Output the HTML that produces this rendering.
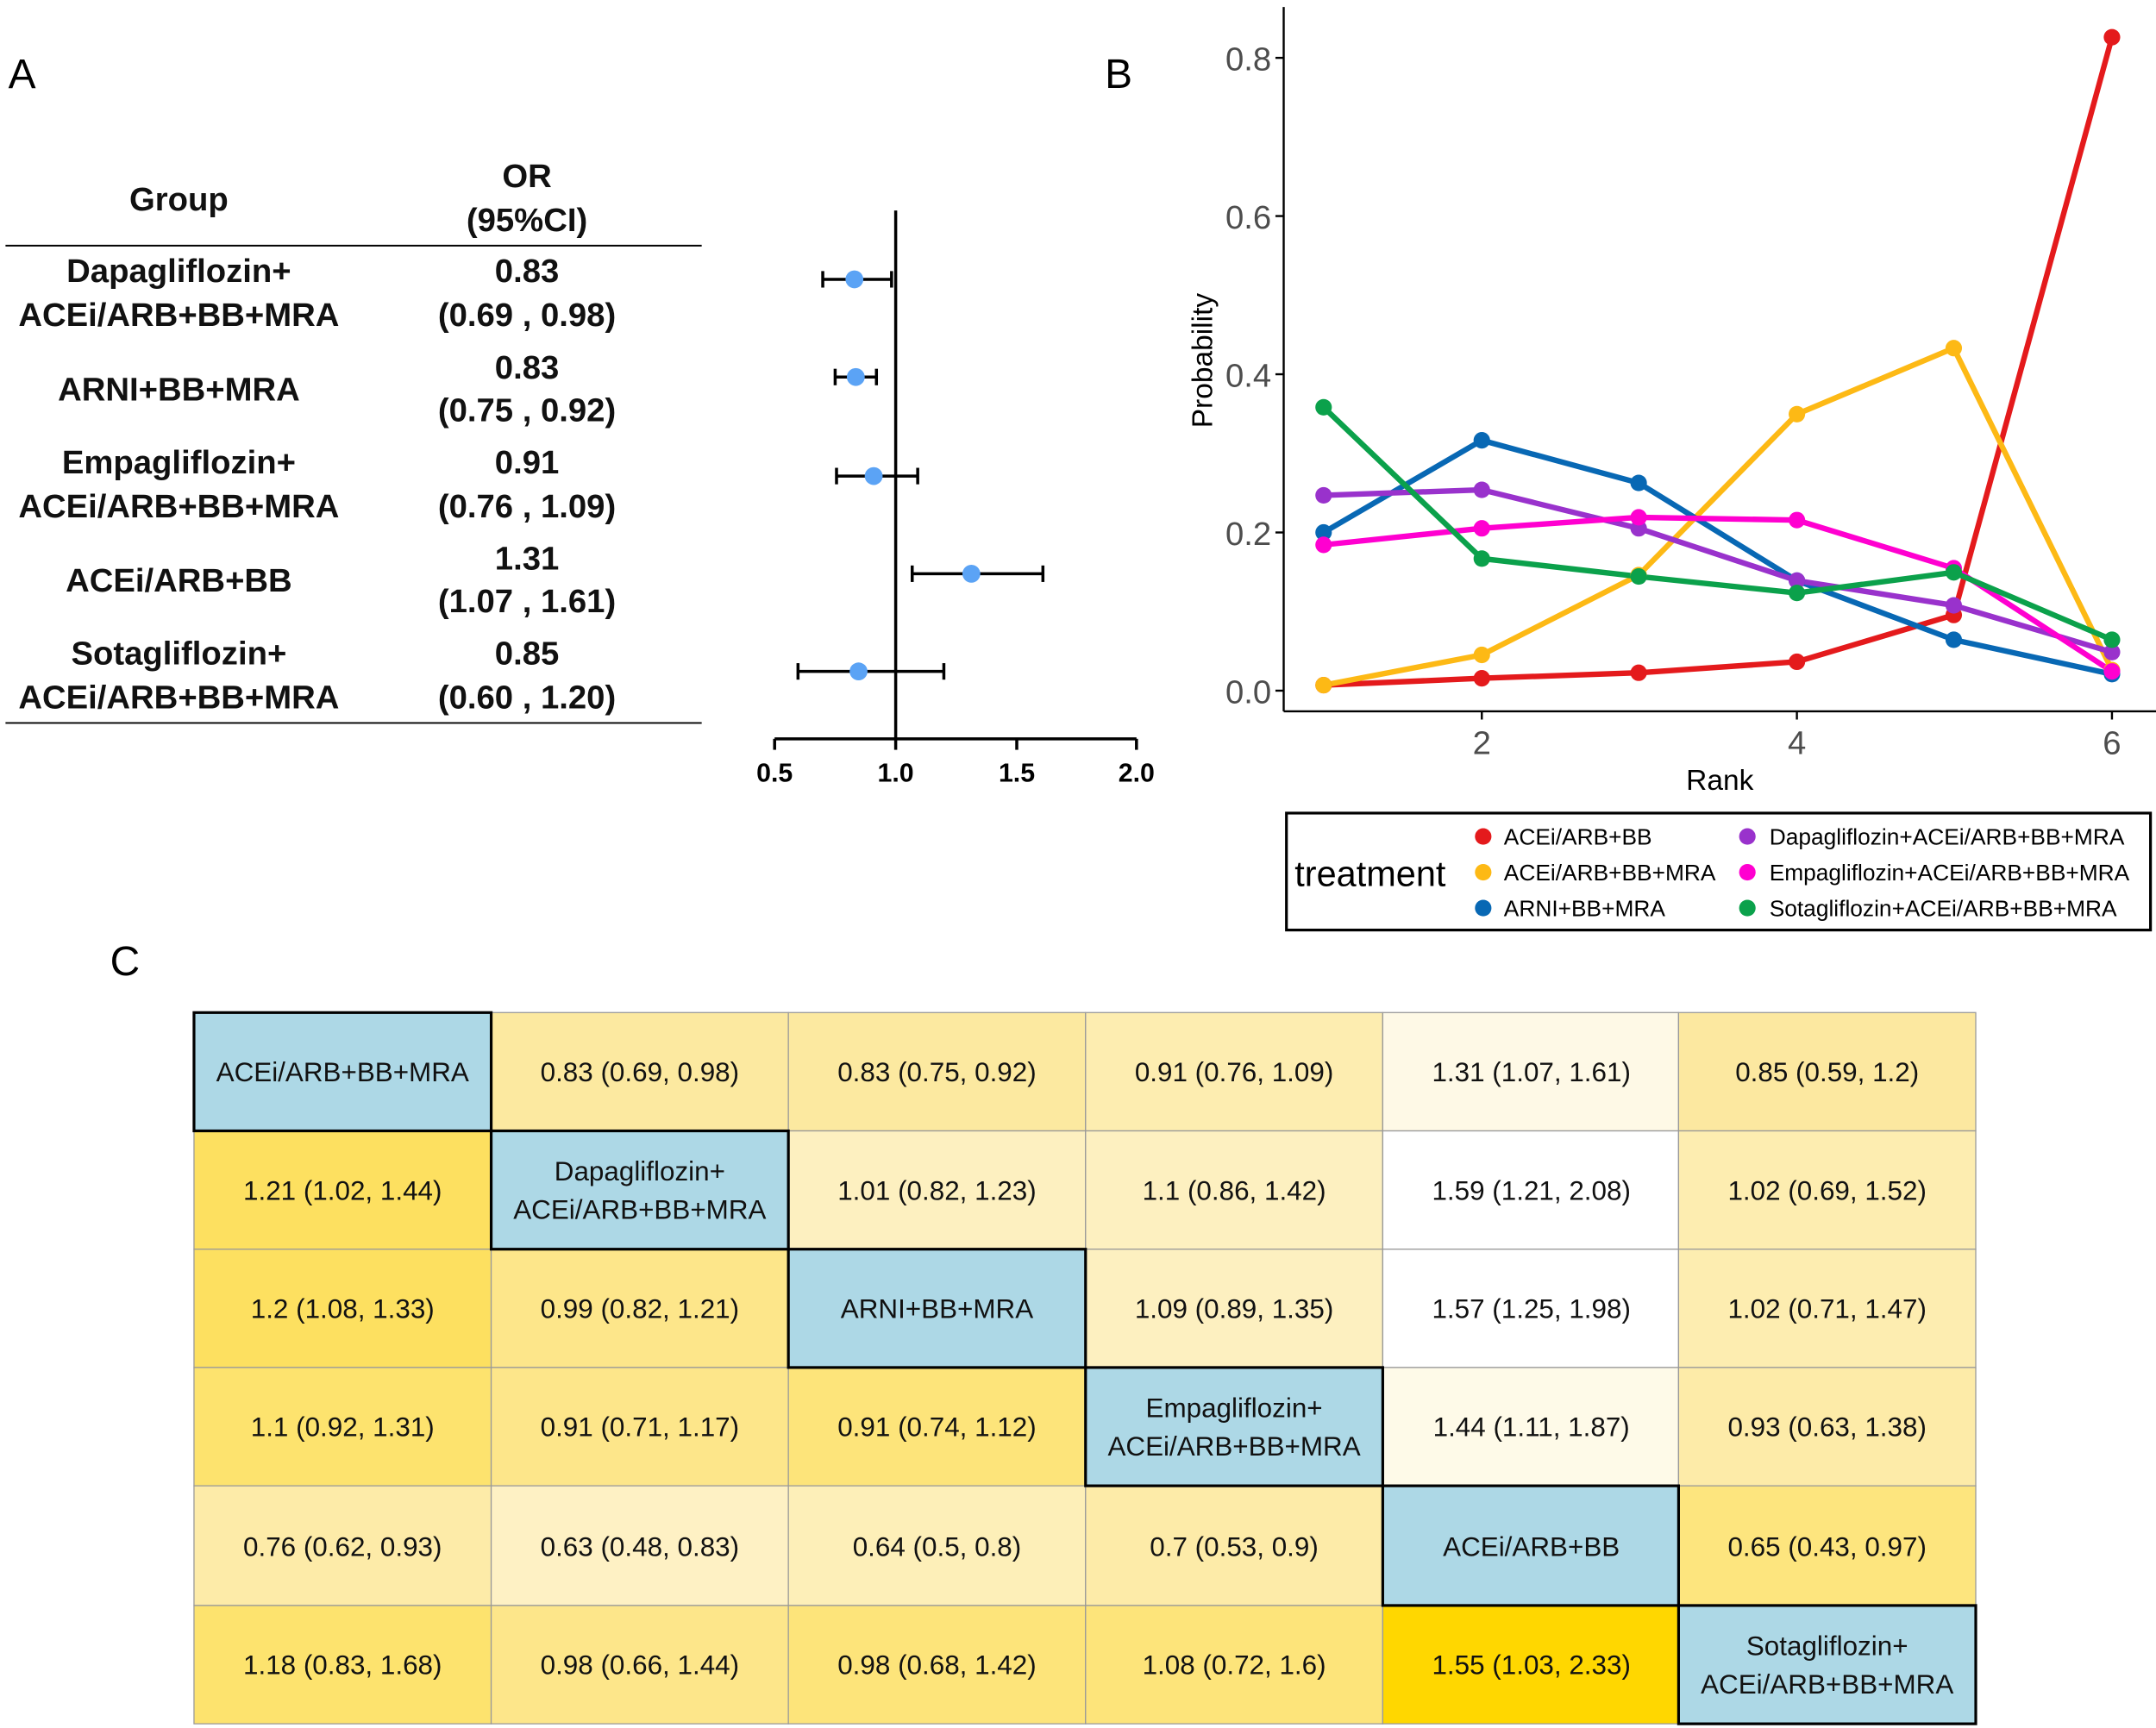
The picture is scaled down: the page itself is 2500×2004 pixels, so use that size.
<!DOCTYPE html>
<html><head><meta charset="utf-8"><style>
html,body{margin:0;padding:0;background:#fff}
svg{display:block}
text{font-family:"Liberation Sans",Arial,sans-serif}
</style></head><body>
<svg width="2500" height="2004" viewBox="0 0 1567 1256" xmlns="http://www.w3.org/2000/svg">
<rect width="1567" height="1256" fill="#fff"/>
<!-- Panel A -->
<text x="6" y="64" font-size="30">A</text>
<g font-size="24" font-weight="bold" text-anchor="middle" fill="#111">
<text x="130" y="153">Group</text>
<text x="383" y="136">OR</text>
<text x="383" y="168">(95%CI)</text>
<text x="130" y="205">Dapagliflozin+</text><text x="130" y="237">ACEi/ARB+BB+MRA</text>
<text x="383" y="205">0.83</text><text x="383" y="237">(0.69 , 0.98)</text>
<text x="130" y="291">ARNI+BB+MRA</text>
<text x="383" y="275">0.83</text><text x="383" y="306">(0.75 , 0.92)</text>
<text x="130" y="344">Empagliflozin+</text><text x="130" y="376">ACEi/ARB+BB+MRA</text>
<text x="383" y="344">0.91</text><text x="383" y="376">(0.76 , 1.09)</text>
<text x="130" y="430">ACEi/ARB+BB</text>
<text x="383" y="414">1.31</text><text x="383" y="445">(1.07 , 1.61)</text>
<text x="130" y="483">Sotagliflozin+</text><text x="130" y="515">ACEi/ARB+BB+MRA</text>
<text x="383" y="483">0.85</text><text x="383" y="515">(0.60 , 1.20)</text>
</g>
<line x1="4" y1="178.5" x2="510" y2="178.5" stroke="#000" stroke-width="1.2"/>
<line x1="4" y1="525.5" x2="510" y2="525.5" stroke="#000" stroke-width="1.2"/>
<!-- forest -->
<g stroke="#000" stroke-width="2.2">
<line x1="651" y1="153" x2="651" y2="537"/>
<line x1="563" y1="537" x2="826" y2="537"/>
<line x1="563" y1="537" x2="563" y2="545"/><line x1="651" y1="537" x2="651" y2="545"/>
<line x1="739" y1="537" x2="739" y2="545"/><line x1="826" y1="537" x2="826" y2="545"/>
<line x1="598" y1="203" x2="648" y2="203"/><line x1="598" y1="197" x2="598" y2="209"/><line x1="648" y1="197" x2="648" y2="209"/>
<line x1="607" y1="274" x2="637" y2="274"/><line x1="607" y1="268" x2="607" y2="280"/><line x1="637" y1="268" x2="637" y2="280"/>
<line x1="608" y1="346" x2="667" y2="346"/><line x1="608" y1="340" x2="608" y2="352"/><line x1="667" y1="340" x2="667" y2="352"/>
<line x1="663" y1="417" x2="758" y2="417"/><line x1="663" y1="411" x2="663" y2="423"/><line x1="758" y1="411" x2="758" y2="423"/>
<line x1="580" y1="488" x2="686" y2="488"/><line x1="580" y1="482" x2="580" y2="494"/><line x1="686" y1="482" x2="686" y2="494"/>
</g>
<g fill="#5BA3F5"><circle cx="621" cy="203" r="6.5"/><circle cx="622" cy="274" r="6.5"/><circle cx="635" cy="346" r="6.5"/><circle cx="706" cy="417" r="6.5"/><circle cx="624" cy="488" r="6.5"/></g>
<g font-size="19" font-weight="bold" text-anchor="middle"><text x="563" y="568">0.5</text><text x="651" y="568">1.0</text><text x="739" y="568">1.5</text><text x="826" y="568">2.0</text></g>
<!-- Panel B -->
<text x="803" y="64" font-size="30">B</text>
<g stroke="#000" stroke-width="1.5"><line x1="933" y1="5" x2="933" y2="517"/><line x1="933" y1="517" x2="1567" y2="517"/>
<line x1="927" y1="42" x2="933" y2="42"/><line x1="927" y1="157" x2="933" y2="157"/><line x1="927" y1="272" x2="933" y2="272"/><line x1="927" y1="387" x2="933" y2="387"/><line x1="927" y1="502" x2="933" y2="502"/>
<line x1="1077" y1="517" x2="1077" y2="523"/><line x1="1306" y1="517" x2="1306" y2="523"/><line x1="1535" y1="517" x2="1535" y2="523"/></g>
<g font-size="24" fill="#4d4d4d" text-anchor="end"><text x="924" y="51">0.8</text><text x="924" y="166">0.6</text><text x="924" y="281">0.4</text><text x="924" y="396">0.2</text><text x="924" y="511">0.0</text></g>
<g font-size="24" fill="#4d4d4d" text-anchor="middle"><text x="1077" y="548">2</text><text x="1306" y="548">4</text><text x="1535" y="548">6</text></g>
<text x="1250" y="574" font-size="21" text-anchor="middle">Rank</text>
<text transform="translate(881,262) rotate(-90)" font-size="21" text-anchor="middle">Probability</text>
<g fill="none" stroke-width="4" stroke-linejoin="round">
<polyline stroke="#E41A1C" points="962,498 1077,493 1191,489 1306,481 1420,447 1535,27"/>
<polyline stroke="#FDB915" points="962,498 1077,476 1191,418 1306,301 1420,253 1535,487"/>
<polyline stroke="#0868B4" points="962,387 1077,320 1191,351 1306,422 1420,465 1535,490"/>
<polyline stroke="#9932CC" points="962,360 1077,356 1191,384 1306,422 1420,440 1535,474"/>
<polyline stroke="#FF00D0" points="962,396 1077,384 1191,376 1306,378 1420,413 1535,488"/>
<polyline stroke="#0BA14B" points="962,296 1077,406 1191,419 1306,431 1420,416 1535,465"/>
</g>
<g fill="#E41A1C"><circle cx="962" cy="498" r="6"/><circle cx="1077" cy="493" r="6"/><circle cx="1191" cy="489" r="6"/><circle cx="1306" cy="481" r="6"/><circle cx="1420" cy="447" r="6"/><circle cx="1535" cy="27" r="6"/></g>
<g fill="#FDB915"><circle cx="962" cy="498" r="6"/><circle cx="1077" cy="476" r="6"/><circle cx="1191" cy="418" r="6"/><circle cx="1306" cy="301" r="6"/><circle cx="1420" cy="253" r="6"/><circle cx="1535" cy="487" r="6"/></g>
<g fill="#0868B4"><circle cx="962" cy="387" r="6"/><circle cx="1077" cy="320" r="6"/><circle cx="1191" cy="351" r="6"/><circle cx="1306" cy="422" r="6"/><circle cx="1420" cy="465" r="6"/><circle cx="1535" cy="490" r="6"/></g>
<g fill="#9932CC"><circle cx="962" cy="360" r="6"/><circle cx="1077" cy="356" r="6"/><circle cx="1191" cy="384" r="6"/><circle cx="1306" cy="422" r="6"/><circle cx="1420" cy="440" r="6"/><circle cx="1535" cy="474" r="6"/></g>
<g fill="#FF00D0"><circle cx="962" cy="396" r="6"/><circle cx="1077" cy="384" r="6"/><circle cx="1191" cy="376" r="6"/><circle cx="1306" cy="378" r="6"/><circle cx="1420" cy="413" r="6"/><circle cx="1535" cy="488" r="6"/></g>
<g fill="#0BA14B"><circle cx="962" cy="296" r="6"/><circle cx="1077" cy="406" r="6"/><circle cx="1191" cy="419" r="6"/><circle cx="1306" cy="431" r="6"/><circle cx="1420" cy="416" r="6"/><circle cx="1535" cy="465" r="6"/></g>
<!-- legend -->
<rect x="935" y="591" width="628" height="85" fill="#fff" stroke="#000" stroke-width="2"/>
<text x="941" y="644" font-size="26">treatment</text>
<g font-size="16.5">
<circle cx="1078" cy="608" r="6" fill="#E41A1C"/><text x="1093" y="614">ACEi/ARB+BB</text>
<circle cx="1078" cy="634" r="6" fill="#FDB915"/><text x="1093" y="640">ACEi/ARB+BB+MRA</text>
<circle cx="1078" cy="660" r="6" fill="#0868B4"/><text x="1093" y="666">ARNI+BB+MRA</text>
<circle cx="1270" cy="608" r="6" fill="#9932CC"/><text x="1286" y="614">Dapagliflozin+ACEi/ARB+BB+MRA</text>
<circle cx="1270" cy="634" r="6" fill="#FF00D0"/><text x="1286" y="640">Empagliflozin+ACEi/ARB+BB+MRA</text>
<circle cx="1270" cy="660" r="6" fill="#0BA14B"/><text x="1286" y="666">Sotagliflozin+ACEi/ARB+BB+MRA</text>
</g>
<!-- Panel C -->
<text x="80" y="709" font-size="30">C</text>
<g stroke="#999" stroke-width="0.8">
<rect x="141" y="736" width="216" height="86" fill="#ADD8E6"/><rect x="357" y="736" width="216" height="86" fill="#FCE9A0"/><rect x="573" y="736" width="216" height="86" fill="#FCE9A0"/><rect x="789" y="736" width="216" height="86" fill="#FDEDB0"/><rect x="1005" y="736" width="215" height="86" fill="#FEF9E6"/><rect x="1220" y="736" width="216" height="86" fill="#FCE8A0"/>
<rect x="141" y="822" width="216" height="86" fill="#FDE060"/><rect x="357" y="822" width="216" height="86" fill="#ADD8E6"/><rect x="573" y="822" width="216" height="86" fill="#FDF0C0"/><rect x="789" y="822" width="216" height="86" fill="#FDF0C0"/><rect x="1005" y="822" width="215" height="86" fill="#FFFFFF"/><rect x="1220" y="822" width="216" height="86" fill="#FDEDB0"/>
<rect x="141" y="908" width="216" height="86" fill="#FDE060"/><rect x="357" y="908" width="216" height="86" fill="#FDE68A"/><rect x="573" y="908" width="216" height="86" fill="#ADD8E6"/><rect x="789" y="908" width="216" height="86" fill="#FDF0C0"/><rect x="1005" y="908" width="215" height="86" fill="#FFFFFF"/><rect x="1220" y="908" width="216" height="86" fill="#FDEDB0"/>
<rect x="141" y="994" width="216" height="86" fill="#FDE36E"/><rect x="357" y="994" width="216" height="86" fill="#FDE68A"/><rect x="573" y="994" width="216" height="86" fill="#FDE47A"/><rect x="789" y="994" width="216" height="86" fill="#ADD8E6"/><rect x="1005" y="994" width="215" height="86" fill="#FEFAE8"/><rect x="1220" y="994" width="216" height="86" fill="#FDEBA8"/>
<rect x="141" y="1080" width="216" height="87" fill="#FDEBA8"/><rect x="357" y="1080" width="216" height="87" fill="#FEF1C4"/><rect x="573" y="1080" width="216" height="87" fill="#FDEFB8"/><rect x="789" y="1080" width="216" height="87" fill="#FDEBA8"/><rect x="1005" y="1080" width="215" height="87" fill="#ADD8E6"/><rect x="1220" y="1080" width="216" height="87" fill="#FDE57E"/>
<rect x="141" y="1167" width="216" height="86" fill="#FDE36E"/><rect x="357" y="1167" width="216" height="86" fill="#FDE68A"/><rect x="573" y="1167" width="216" height="86" fill="#FDE47A"/><rect x="789" y="1167" width="216" height="86" fill="#FDE47A"/><rect x="1005" y="1167" width="215" height="86" fill="#FFD700"/><rect x="1220" y="1167" width="216" height="86" fill="#ADD8E6"/>
</g>
<g fill="none" stroke="#000" stroke-width="2">
<rect x="141" y="736" width="216" height="86"/><rect x="357" y="822" width="216" height="86"/><rect x="573" y="908" width="216" height="86"/><rect x="789" y="994" width="216" height="86"/><rect x="1005" y="1080" width="215" height="87"/><rect x="1220" y="1167" width="216" height="86"/>
</g>
<g font-size="19.7" text-anchor="middle" fill="#111">
<text x="249" y="786">ACEi/ARB+BB+MRA</text><text x="465" y="786">0.83 (0.69, 0.98)</text><text x="681" y="786">0.83 (0.75, 0.92)</text><text x="897" y="786">0.91 (0.76, 1.09)</text><text x="1113" y="786">1.31 (1.07, 1.61)</text><text x="1328" y="786">0.85 (0.59, 1.2)</text>
<text x="249" y="872">1.21 (1.02, 1.44)</text><text x="465" y="858">Dapagliflozin+</text><text x="465" y="886">ACEi/ARB+BB+MRA</text><text x="681" y="872">1.01 (0.82, 1.23)</text><text x="897" y="872">1.1 (0.86, 1.42)</text><text x="1113" y="872">1.59 (1.21, 2.08)</text><text x="1328" y="872">1.02 (0.69, 1.52)</text>
<text x="249" y="958">1.2 (1.08, 1.33)</text><text x="465" y="958">0.99 (0.82, 1.21)</text><text x="681" y="958">ARNI+BB+MRA</text><text x="897" y="958">1.09 (0.89, 1.35)</text><text x="1113" y="958">1.57 (1.25, 1.98)</text><text x="1328" y="958">1.02 (0.71, 1.47)</text>
<text x="249" y="1044">1.1 (0.92, 1.31)</text><text x="465" y="1044">0.91 (0.71, 1.17)</text><text x="681" y="1044">0.91 (0.74, 1.12)</text><text x="897" y="1030">Empagliflozin+</text><text x="897" y="1058">ACEi/ARB+BB+MRA</text><text x="1113" y="1044">1.44 (1.11, 1.87)</text><text x="1328" y="1044">0.93 (0.63, 1.38)</text>
<text x="249" y="1131">0.76 (0.62, 0.93)</text><text x="465" y="1131">0.63 (0.48, 0.83)</text><text x="681" y="1131">0.64 (0.5, 0.8)</text><text x="897" y="1131">0.7 (0.53, 0.9)</text><text x="1113" y="1131">ACEi/ARB+BB</text><text x="1328" y="1131">0.65 (0.43, 0.97)</text>
<text x="249" y="1217">1.18 (0.83, 1.68)</text><text x="465" y="1217">0.98 (0.66, 1.44)</text><text x="681" y="1217">0.98 (0.68, 1.42)</text><text x="897" y="1217">1.08 (0.72, 1.6)</text><text x="1113" y="1217">1.55 (1.03, 2.33)</text><text x="1328" y="1203">Sotagliflozin+</text><text x="1328" y="1231">ACEi/ARB+BB+MRA</text>
</g>
</svg>
</body></html>
